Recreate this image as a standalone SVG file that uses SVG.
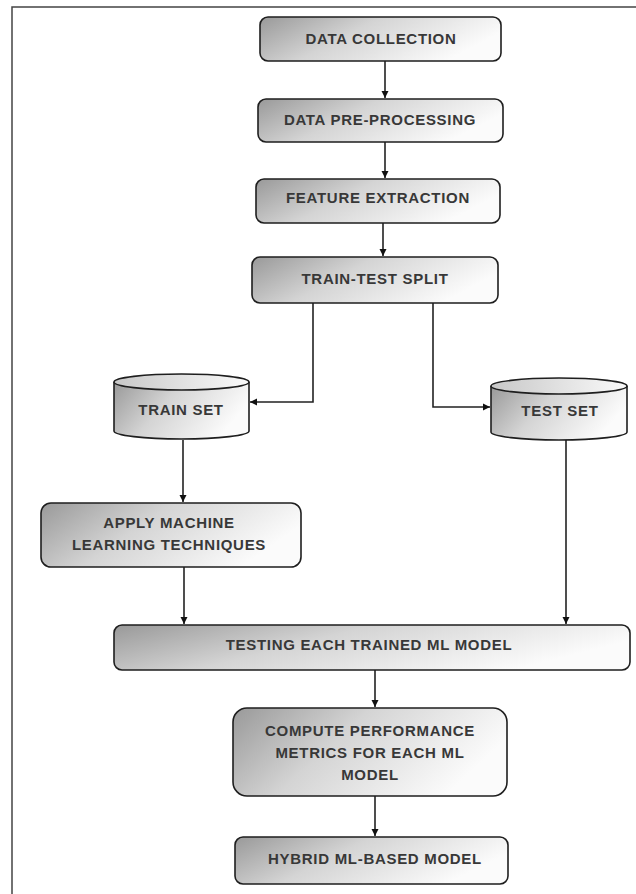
<svg xmlns="http://www.w3.org/2000/svg" width="636" height="894" viewBox="0 0 636 894">
<defs>
<linearGradient id="g" x1="0" y1="0" x2="1" y2="0.35">
<stop offset="0" stop-color="#999999"/>
<stop offset="0.45" stop-color="#d4d4d4"/>
<stop offset="1" stop-color="#fbfbfb"/>
</linearGradient>
<linearGradient id="gt" x1="0" y1="0" x2="1" y2="0">
<stop offset="0" stop-color="#c8c8c8"/>
<stop offset="1" stop-color="#fafafa"/>
</linearGradient>
<marker id="a" markerUnits="userSpaceOnUse" markerWidth="8" markerHeight="8" refX="7" refY="4" orient="auto">
<path d="M0,0.5 L7,4 L0,7.5 z" fill="#111"/>
</marker>
</defs>
<style>
.box{fill:url(#g);stroke:#1e1e1e;stroke-width:1.6}
.top{fill:url(#gt);stroke:#1e1e1e;stroke-width:1.6}
.t{font-family:"Liberation Sans",Arial,sans-serif;font-size:15px;font-weight:bold;fill:#383838;text-anchor:middle;letter-spacing:0.7px}
.c{fill:none;stroke:#222;stroke-width:1.6;marker-end:url(#a)}
.frame{fill:none;stroke:#444;stroke-width:1.5}
</style>
<path class="frame" d="M12,894 V7 H636"/>
<g id="connectors">
<path class="c" d="M385,61 V98"/>
<path class="c" d="M385,142 V178"/>
<path class="c" d="M383,223 V256"/>
<path class="c" d="M313,303 V402 H250"/>
<path class="c" d="M433,303 V407 H490"/>
<path class="c" d="M183,440 V502"/>
<path class="c" d="M184,567 V624"/>
<path class="c" d="M566,440 V624"/>
<path class="c" d="M375,670 V707"/>
<path class="c" d="M375,796 V836"/>
</g>
<g id="data-collection">
<rect class="box" x="260" y="17" width="241" height="44" rx="8"/>
<text class="t" x="381" y="44">DATA COLLECTION</text>
</g>
<g id="data-preprocessing">
<rect class="box" x="258" y="99" width="245" height="43" rx="8"/>
<text class="t" x="380" y="125">DATA PRE-PROCESSING</text>
</g>
<g id="feature-extraction">
<rect class="box" x="256" y="179" width="244" height="44" rx="8"/>
<text class="t" x="378" y="203">FEATURE EXTRACTION</text>
</g>
<g id="train-test-split">
<rect class="box" x="252" y="257" width="246" height="46" rx="8"/>
<text class="t" x="375" y="284">TRAIN-TEST SPLIT</text>
</g>
<g id="train-set">
<path class="box" d="M114,382 V431 A67.5,8 0 0 0 249,431 V382"/>
<ellipse class="top" cx="181.5" cy="382" rx="67.5" ry="8"/>
<text class="t" x="181" y="415">TRAIN SET</text>
</g>
<g id="test-set">
<path class="box" d="M491,386 V432 A68,8 0 0 0 627,432 V386"/>
<ellipse class="top" cx="559" cy="386" rx="68" ry="8"/>
<text class="t" x="560" y="416">TEST SET</text>
</g>
<g id="apply-ml">
<rect class="box" x="41" y="503" width="260" height="64" rx="10"/>
<text class="t" x="169" y="528">APPLY MACHINE</text>
<text class="t" x="169" y="550">LEARNING TECHNIQUES</text>
</g>
<g id="testing">
<rect class="box" x="114" y="625" width="516" height="45" rx="8"/>
<text class="t" x="369" y="650">TESTING EACH TRAINED ML MODEL</text>
</g>
<g id="compute-metrics">
<rect class="box" x="233" y="708" width="274" height="88" rx="14"/>
<text class="t" x="370" y="736">COMPUTE PERFORMANCE</text>
<text class="t" x="370" y="758">METRICS FOR EACH ML</text>
<text class="t" x="370" y="780">MODEL</text>
</g>
<g id="hybrid">
<rect class="box" x="235" y="837" width="273" height="47" rx="8"/>
<text class="t" x="375" y="864">HYBRID ML-BASED MODEL</text>
</g>
</svg>
